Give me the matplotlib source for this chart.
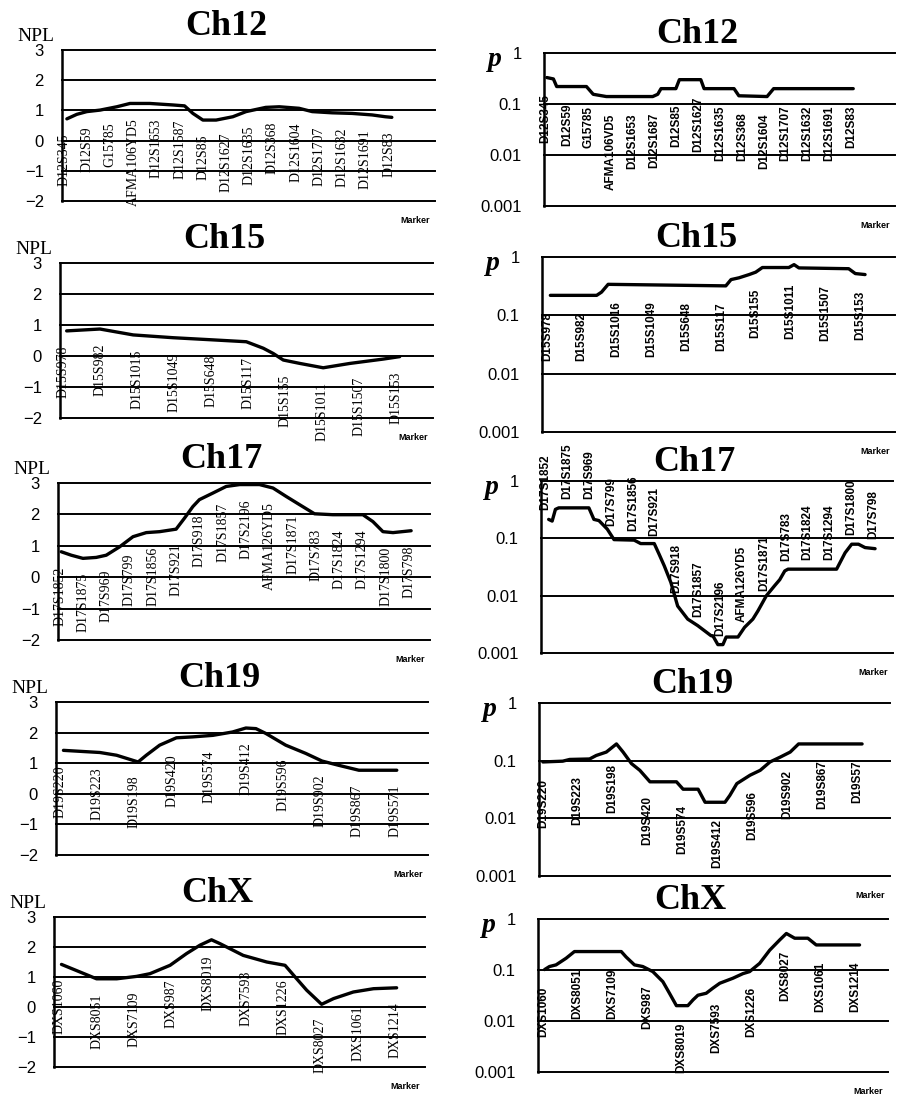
import numpy as np
import matplotlib.pyplot as plt

SERIF = 'Liberation Serif'
SANS = 'Liberation Sans'
plt.rcParams['font.family'] = SANS

W, H = 899, 1103

# ---------------- data ----------------
# marker names (one per category on the x axis), curve vertices in marker-index units
ch12_npl_markers = ['D12S345', 'D12S59', 'G15785', 'AFMA106YD5', 'D12S1653', 'D12S1587', 'D12S85',
                    'D12S1627', 'D12S1635', 'D12S368', 'D12S1604', 'D12S1707', 'D12S1632', 'D12S1691', 'D12S83']
ch12_npl_x = [0.14, 0.57, 1.0, 1.57, 2.29, 2.86, 3.71, 4.71, 5.21, 5.57, 6.0, 6.57, 7.29, 7.86,
              8.71, 9.29, 10.14, 10.71, 11.57, 12.43, 13.29, 13.86, 14.14]
ch12_npl_y = [0.72, 0.87, 0.96, 1.01, 1.12, 1.23, 1.23, 1.18, 1.15, 0.90, 0.68, 0.68, 0.79, 0.96,
              1.10, 1.12, 1.07, 0.96, 0.92, 0.90, 0.85, 0.79, 0.77]

ch12_p_markers = ['D12S345', 'D12S59', 'G15785', 'AFMA106VD5', 'D12S1653', 'D12S1687', 'D12S85',
                  'D12S1627', 'D12S1635', 'D12S368', 'D12S1604', 'D12S1707', 'D12S1632', 'D12S1691', 'D12S83']
ch12_p_x = [0.08, 0.38, 0.53, 1.89, 2.2, 2.8, 4.92, 5.15, 5.3, 5.98, 6.14, 7.12, 7.27, 8.64, 8.86,
            10.15, 10.45, 14.09]
ch12_p_y = [0.33, 0.31, 0.22, 0.22, 0.155, 0.14, 0.14, 0.155, 0.2, 0.2, 0.3, 0.3, 0.2, 0.2, 0.145,
            0.14, 0.2, 0.2]

ch15_npl_markers = ['D15S978', 'D15S982', 'D15S1015', 'D15S1049', 'D15S648', 'D15S117', 'D15S155',
                    'D15S1011', 'D15S1507', 'D15S153']
ch15_npl_x = [0.09, 0.99, 1.89, 2.97, 4.05, 4.95, 5.41, 5.68, 5.95, 6.4, 7.03, 7.75, 8.65, 9.1]
ch15_npl_y = [0.81, 0.87, 0.68, 0.59, 0.52, 0.46, 0.25, 0.08, -0.13, -0.24, -0.38, -0.24, -0.10, -0.02]

ch15_p_markers = ['D15S978', 'D15S982', 'D15S1016', 'D15S1049', 'D15S648', 'D15S117', 'D15S155',
                  'D15S1011', 'D15S1507', 'D15S153']
ch15_p_x = [0.1, 1.43, 1.57, 1.76, 5.14, 5.29, 5.52, 5.81, 6.0, 6.19, 6.95, 7.1, 7.24, 8.67, 8.86, 9.14]
ch15_p_y = [0.22, 0.22, 0.25, 0.34, 0.32, 0.41, 0.44, 0.5, 0.55, 0.66, 0.66, 0.74, 0.65, 0.63, 0.52, 0.5]

ch17_npl_markers = ['D17S1852', 'D17S1875', 'D17S969', 'D17S799', 'D17S1856', 'D17S921', 'D17S918',
                    'D17S1857', 'D17S2196', 'AFMA126YD5', 'D17S1871', 'D17S783', 'D17S1824', 'D17S1294',
                    'D17S1800', 'D17S798']
ch17_npl_x = [0.07, 0.5, 1.0, 1.57, 2.0, 2.58, 3.15, 3.72, 4.29, 5.0, 5.36, 5.72, 6.0, 6.58, 7.15,
              7.73, 8.58, 9.16, 9.73, 10.3, 10.94, 11.73, 13.02, 13.45, 13.88, 14.31, 15.09]
ch17_npl_y = [0.81, 0.70, 0.60, 0.63, 0.70, 0.97, 1.29, 1.42, 1.45, 1.53, 1.88, 2.25, 2.47, 2.68, 2.89,
              2.95, 2.95, 2.84, 2.57, 2.31, 2.02, 1.99, 1.99, 1.77, 1.45, 1.42, 1.48]

ch17_p_markers = ['D17S1852', 'D17S1875', 'D17S969', 'D17S799', 'D17S1856', 'D17S921', 'D17S918',
                  'D17S1857', 'D17S2196', 'AFMA126YD5', 'D17S1871', 'D17S783', 'D17S1824', 'D17S1294',
                  'D17S1800', 'D17S798']
ch17_p_x = [0.15, 0.31, 0.46, 0.61, 1.99, 2.22, 2.45, 2.83, 3.14, 4.06, 4.36, 4.98, 5.21, 5.44, 5.74,
            6.05, 6.51, 6.97, 7.58, 7.66, 7.89, 8.12, 8.27, 8.81, 9.11, 9.49, 9.72, 10.11, 10.49,
            10.72, 10.95, 11.1, 13.32, 13.71, 14.01, 14.32, 14.62, 15.08]
ch17_p_y = [0.214, 0.2, 0.32, 0.34, 0.34, 0.214, 0.204, 0.145, 0.095, 0.093, 0.081, 0.081, 0.052,
            0.033, 0.017, 0.0066, 0.0039, 0.003, 0.002, 0.002, 0.0014, 0.0014, 0.0019, 0.0019,
            0.0028, 0.0039, 0.0054, 0.01, 0.015, 0.019, 0.027, 0.029, 0.029, 0.056, 0.079, 0.079,
            0.069, 0.066]

ch19_npl_markers = ['D19S220', 'D19S223', 'D19S198', 'D19S420', 'D19S574', 'D19S412', 'D19S596',
                    'D19S902', 'D19S867', 'D19S571']
ch19_npl_x = [0.09, 1.07, 1.52, 2.1, 2.32, 2.68, 3.13, 3.57, 4.11, 4.64, 5.0, 5.27, 5.54, 6.07, 6.61,
              7.05, 7.5, 8.04, 9.06]
ch19_npl_y = [1.42, 1.35, 1.26, 1.04, 1.26, 1.59, 1.83, 1.86, 1.91, 2.02, 2.15, 2.13, 1.97, 1.59, 1.32,
              1.07, 0.93, 0.77, 0.77]

ch19_p_markers = ['D19S220', 'D19S223', 'D19S198', 'D19S420', 'D19S574', 'D19S412', 'D19S596',
                  'D19S902', 'D19S867', 'D19S57']
ch19_p_x = [0.0, 0.57, 0.77, 1.34, 1.53, 1.82, 2.11, 2.3, 2.54, 2.78, 3.07, 3.83, 4.02, 4.45, 4.65,
            5.22, 5.36, 5.56, 5.94, 6.23, 6.51, 6.8, 7.09, 7.33, 9.15]
ch19_p_y = [0.095, 0.098, 0.105, 0.107, 0.123, 0.141, 0.195, 0.141, 0.089, 0.068, 0.043, 0.043, 0.032,
            0.032, 0.019, 0.019, 0.025, 0.04, 0.056, 0.068, 0.095, 0.115, 0.141, 0.195, 0.195]

chx_npl_markers = ['DXS1060', 'DXS8051', 'DXS7109', 'DXS987', 'DXS8019', 'DXS7593', 'DXS1226',
                   'DXS8027', 'DXS1061', 'DXS1214']
chx_npl_x = [0.06, 0.55, 1.0, 1.54, 2.07, 2.43, 2.97, 3.41, 3.77, 4.08, 4.31, 4.93, 5.56, 6.05, 6.32,
             6.63, 7.03, 7.35, 7.88, 8.42, 9.04]
chx_npl_y = [1.42, 1.17, 0.94, 0.94, 1.02, 1.11, 1.39, 1.78, 2.06, 2.24, 2.11, 1.72, 1.50, 1.39, 1.00,
             0.56, 0.09, 0.28, 0.50, 0.61, 0.64]

chx_p_markers = ['DXS1060', 'DXS8051', 'DXS7109', 'DXS987', 'DXS8019', 'DXS7593', 'DXS1226',
                 'DXS8027', 'DXS1061', 'DXS1214']
chx_p_x = [0.05, 0.19, 0.38, 0.67, 0.91, 2.26, 2.4, 2.64, 2.88, 3.17, 3.46, 3.65, 3.85, 4.18, 4.33,
           4.47, 4.71, 4.9, 5.1, 5.48, 5.77, 5.96, 6.25, 6.54, 6.83, 7.02, 7.26, 7.64, 7.88, 9.13]
chx_p_y = [0.102, 0.117, 0.126, 0.17, 0.23, 0.23, 0.18, 0.126, 0.117, 0.093, 0.059, 0.035, 0.02, 0.02,
           0.026, 0.032, 0.035, 0.044, 0.055, 0.069, 0.085, 0.093, 0.135, 0.245, 0.39, 0.52, 0.42,
           0.42, 0.31, 0.31]

npl_ticks = [3, 2, 1, 0, -1, -2]
npl_ticklabels = ['3', '2', '1', '0', '\u22121', '\u22122']
p_ticks = [1, 0.1, 0.01, 0.001]
p_ticklabels = ['1', '0.1', '0.01', '0.001']

# ---------------- layout (pixel boxes: left, top, right, bottom) ----------------
panels = [
    ('Ch12', 'npl', ch12_npl_markers, ch12_npl_x, ch12_npl_y, (62, 50, 435, 201), (-0.07, 16.0), 'below'),
    ('Ch12', 'p', ch12_p_markers, ch12_p_x, ch12_p_y, (544, 53, 895, 206), (-0.05, 16.0), 'below'),
    ('Ch15', 'npl', ch15_npl_markers, ch15_npl_x, ch15_npl_y, (60, 263, 433, 418), (-0.09, 10.0), 'below'),
    ('Ch15', 'p', ch15_p_markers, ch15_p_x, ch15_p_y, (542, 257, 895, 432), (-0.14, 10.0), 'below'),
    ('Ch17', 'npl', ch17_npl_markers, ch17_npl_x, ch17_npl_y, (58, 483, 430, 640), (-0.07, 15.9), 'below'),
    ('Ch17', 'p', ch17_p_markers, ch17_p_x, ch17_p_y, (541, 481, 893, 653), (-0.2, 15.9), 'above'),
    ('Ch19', 'npl', ch19_npl_markers, ch19_npl_x, ch19_npl_y, (56, 702, 428, 855), (-0.11, 9.9), 'below'),
    ('Ch19', 'p', ch19_p_markers, ch19_p_x, ch19_p_y, (539, 703, 890, 876), (-0.11, 9.95), 'below'),
    ('ChX', 'npl', chx_npl_markers, chx_npl_x, chx_npl_y, (54, 917, 425, 1067), (-0.14, 9.8), 'below'),
    ('ChX', 'p', chx_p_markers, chx_p_x, chx_p_y, (538, 919, 888, 1072), (-0.14, 9.95), 'below'),
]

fig = plt.figure(figsize=(W / 100, H / 100), dpi=100)
fig.patch.set_facecolor('white')

for title, kind, markers, cx, cy, box, xlim, side in panels:
    l, t, r, b = box
    ax = fig.add_axes([l / W, 1 - b / H, (r - l) / W, (b - t) / H])
    ax.set_xlim(*xlim)
    if kind == 'npl':
        ax.set_ylim(-2, 3)
        ticks, ticklabels = npl_ticks, npl_ticklabels
        pad = 13
    else:
        ax.set_yscale('log')
        ax.set_ylim(0.001, 1)
        ticks, ticklabels = p_ticks, p_ticklabels
        pad = 16
    ax.set_yticks(ticks, ticklabels)
    ax.minorticks_off()
    ax.set_xticks([])
    ax.tick_params(axis='y', length=0, pad=pad, labelsize=12)
    for s in ['top', 'right', 'bottom']:
        ax.spines[s].set_visible(False)
    ax.spines['left'].set_linewidth(1.8)
    ax.spines['left'].set_color('black')
    for tv in ticks:
        ax.axhline(tv, color='black', lw=1.4, clip_on=False, zorder=1)

    ax.plot(cx, cy, color='black', lw=2.4, solid_joinstyle='round', solid_capstyle='round', zorder=3)

    # marker labels, placed like spreadsheet data labels
    for i, name in enumerate(markers):
        if kind == 'npl':
            yv = np.interp(i, cx, cy)
            ax.annotate(name, xy=(i, yv), xytext=(0, -10.5), textcoords='offset points',
                        rotation=90, ha='center', va='top', fontsize=10, family=SERIF,
                        annotation_clip=False, zorder=4)
        else:
            yv = 10 ** np.interp(i, cx, np.log10(cy))
            if side == 'above':
                ax.annotate(name, xy=(i, yv), xytext=(0, 6.5), textcoords='offset points',
                            rotation=90, ha='center', va='bottom', fontsize=8.5, fontweight='bold',
                            family=SANS, annotation_clip=False, zorder=4)
            else:
                ax.annotate(name, xy=(i, yv), xytext=(0, -12), textcoords='offset points',
                            rotation=90, ha='center', va='top', fontsize=8.5, fontweight='bold',
                            family=SANS, annotation_clip=False, zorder=4)

    title_dy = 17 if kind == 'npl' else 13
    ax.annotate(title, xy=(0.5, 1), xycoords='axes fraction', xytext=(-16, title_dy),
                textcoords='offset points', ha='center', va='center', fontsize=26,
                fontweight='bold', family=SERIF)
    if kind == 'npl':
        ax.annotate('NPL', xy=(0, 1), xycoords='axes fraction', xytext=(-19, 10),
                    textcoords='offset points', ha='center', va='center', fontsize=14, family=SERIF)
    else:
        ax.annotate('p', xy=(0, 1), xycoords='axes fraction', xytext=(-35, -5),
                    textcoords='offset points', ha='center', va='center', fontsize=20,
                    fontweight='bold', fontstyle='italic', family=SERIF)
    ax.annotate('Marker', xy=(1, 0), xycoords='axes fraction', xytext=(-4, -14),
                textcoords='offset points', ha='right', va='center', fontsize=6.5, fontweight='bold')

fig.savefig('out.png', dpi=100)
